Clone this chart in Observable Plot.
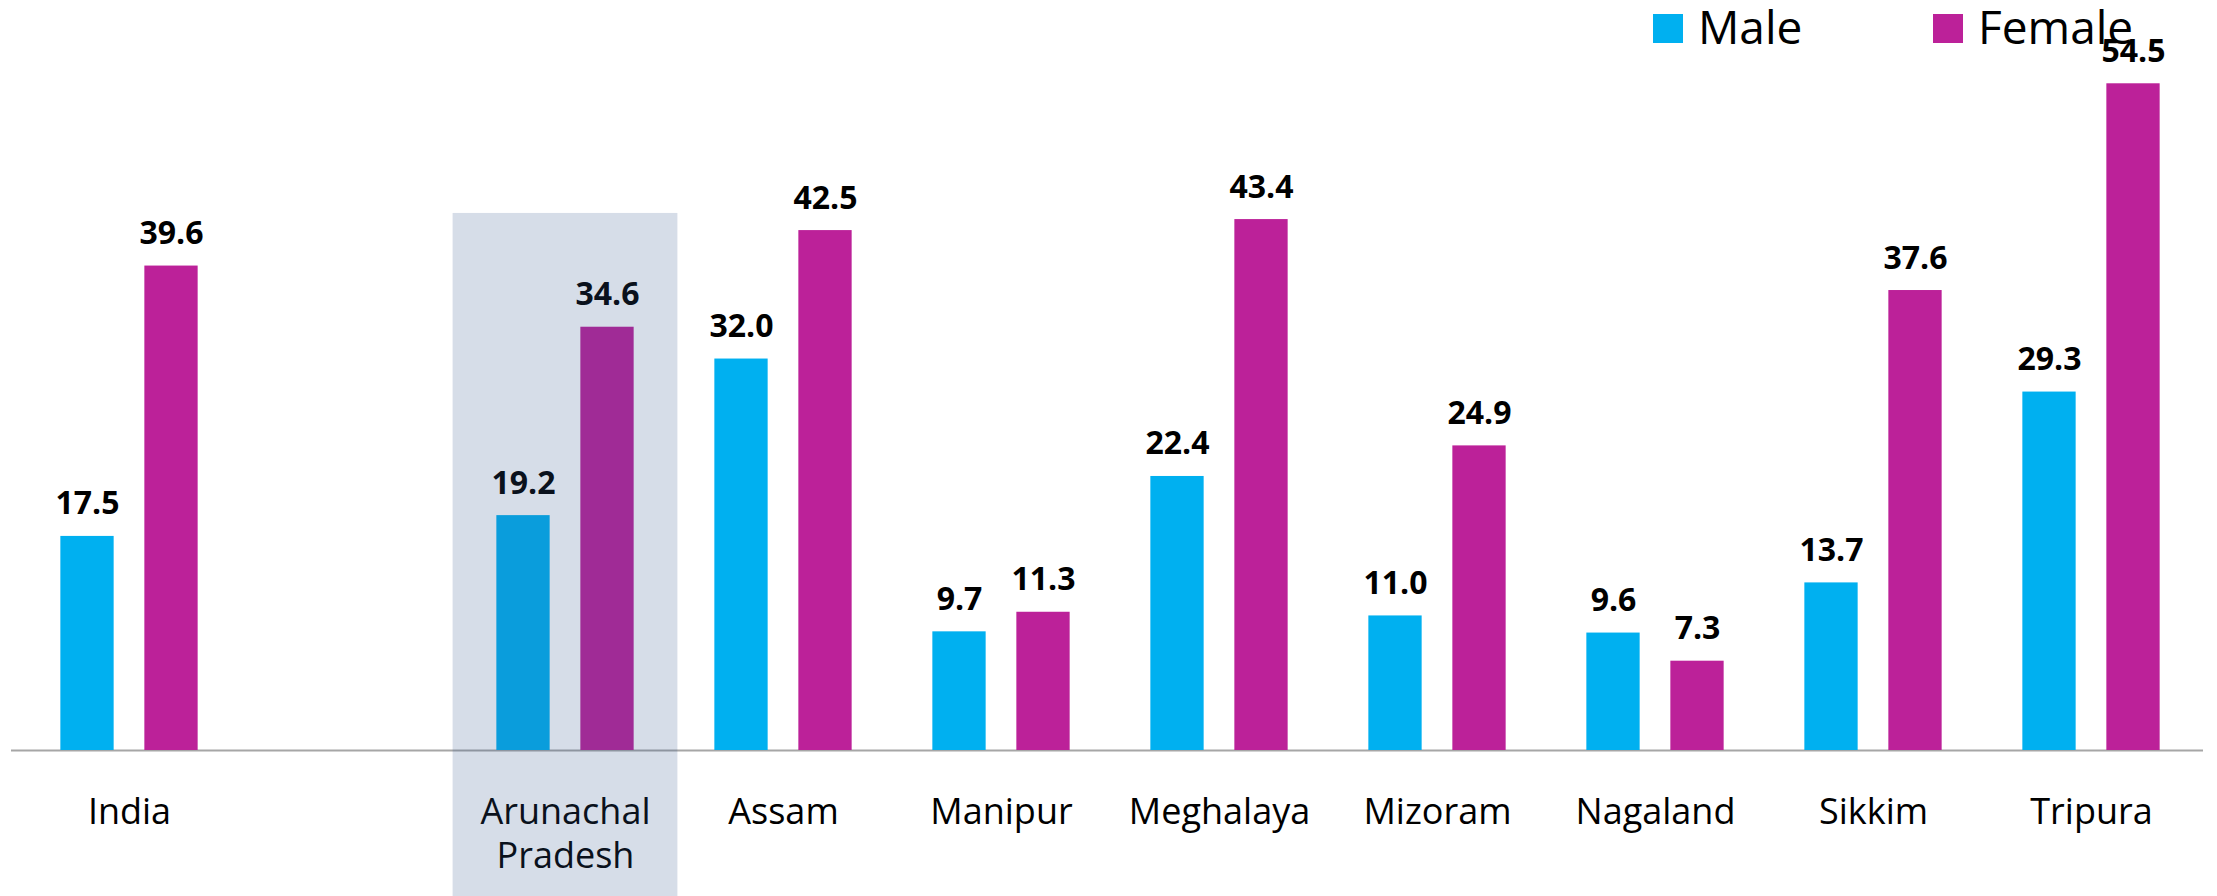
<!DOCTYPE html>
<html>
<head>
<meta charset="utf-8">
<script src="https://cdn.jsdelivr.net/npm/d3@7"></script>
<script src="https://cdn.jsdelivr.net/npm/@observablehq/plot@0.6"></script>
<style>
  html, body { margin: 0; padding: 0; background: #fff; }
  #wrap { position: relative; width: 2217px; height: 896px; font-family: "Open Sans", sans-serif; }
  #wrap svg { display: block; }
  .legend-item { position: absolute; top: 0; height: 60px; }
  .legend-swatch { position: absolute; top: 14px; left: 0; width: 30px; height: 29px; }
  .legend-label { position: absolute; top: 3px; left: 45px; font-size: 46px; line-height: 46px; color: #000; white-space: nowrap; }
</style>
</head>
<body>
<div id="wrap"></div>
<script>
// ---- data ----
const states = ["India", "Arunachal Pradesh", "Assam", "Manipur", "Meghalaya", "Mizoram", "Nagaland", "Sikkim", "Tripura"];
const maleValues = [17.5, 19.2, 32.0, 9.7, 22.4, 11.0, 9.6, 13.7, 29.3];
const femaleValues = [39.6, 34.6, 42.5, 11.3, 43.4, 24.9, 7.3, 37.6, 54.5];
const seriesNames = ["Male", "Female"];
const seriesColors = ["#00b0f0", "#bc2199"];
const highlighted = "Arunachal Pradesh";

// ---- layout ----
const W = 2217, H = 896;
const mL = 16, mR = 14, mT = 16, mB = 146;
const GAP = "\u2003"; // empty slot between India and the states
const slots = [states[0], GAP, ...states.slice(1)];
const step = (W - mL - mR) / slots.length;
const barW = 54;
const barInset = (step - barW) / 2;
const offset = 42;

const maleRows = states.map((s, i) => ({state: s, sex: seriesNames[0], value: maleValues[i]}));
const femaleRows = states.map((s, i) => ({state: s, sex: seriesNames[1], value: femaleValues[i]}));

const valueText = {
  x: "state", y: "value", text: d => d.value.toFixed(1),
  dy: -22, lineAnchor: "bottom", fontSize: 32, fontWeight: "bold", fill: "#000"
};

const chart = Plot.plot({
  width: W, height: H,
  marginTop: mT, marginBottom: mB, marginLeft: mL, marginRight: mR,
  x: {domain: slots, padding: 0, axis: null},
  y: {domain: [0, 60], axis: null},
  color: {domain: seriesNames, range: seriesColors},
  style: {fontFamily: "'Open Sans', sans-serif", background: "white", overflow: "visible"},
  marks: [
    Plot.ruleY([0], {stroke: "#a6a6a6", strokeWidth: 2, insetLeft: -5}),
    Plot.barY(maleRows, {x: "state", y: "value", fill: "sex", insetLeft: barInset, insetRight: barInset, dx: -offset}),
    Plot.barY(femaleRows, {x: "state", y: "value", fill: "sex", insetLeft: barInset, insetRight: barInset, dx: offset}),
    Plot.text(maleRows, {...valueText, dx: -offset}),
    Plot.text(femaleRows, {...valueText, dx: offset}),
    Plot.text(states, {
      x: d => d, frameAnchor: "bottom", dy: 42, lineAnchor: "top", lineHeight: 1.22,
      fontSize: 36, fill: "#000", text: d => d.replace(" ", "\n")
    }),
    Plot.barY([highlighted], {
      x: d => d, y: () => 43.9, fill: "rgb(50,86,140)", fillOpacity: 0.2,
      insetLeft: -3.4, insetRight: -3.4, insetBottom: -mB
    })
  ]
});

const wrap = document.getElementById("wrap");
wrap.appendChild(chart);

// ---- legend ----
const legendLefts = [1653, 1933];
seriesNames.forEach((name, i) => {
  const item = document.createElement("div");
  item.className = "legend-item";
  item.style.left = legendLefts[i] + "px";
  const sw = document.createElement("div");
  sw.className = "legend-swatch";
  sw.style.background = seriesColors[i];
  const lab = document.createElement("div");
  lab.className = "legend-label";
  lab.textContent = name;
  item.appendChild(sw);
  item.appendChild(lab);
  wrap.appendChild(item);
});
</script>
</body>
</html>
